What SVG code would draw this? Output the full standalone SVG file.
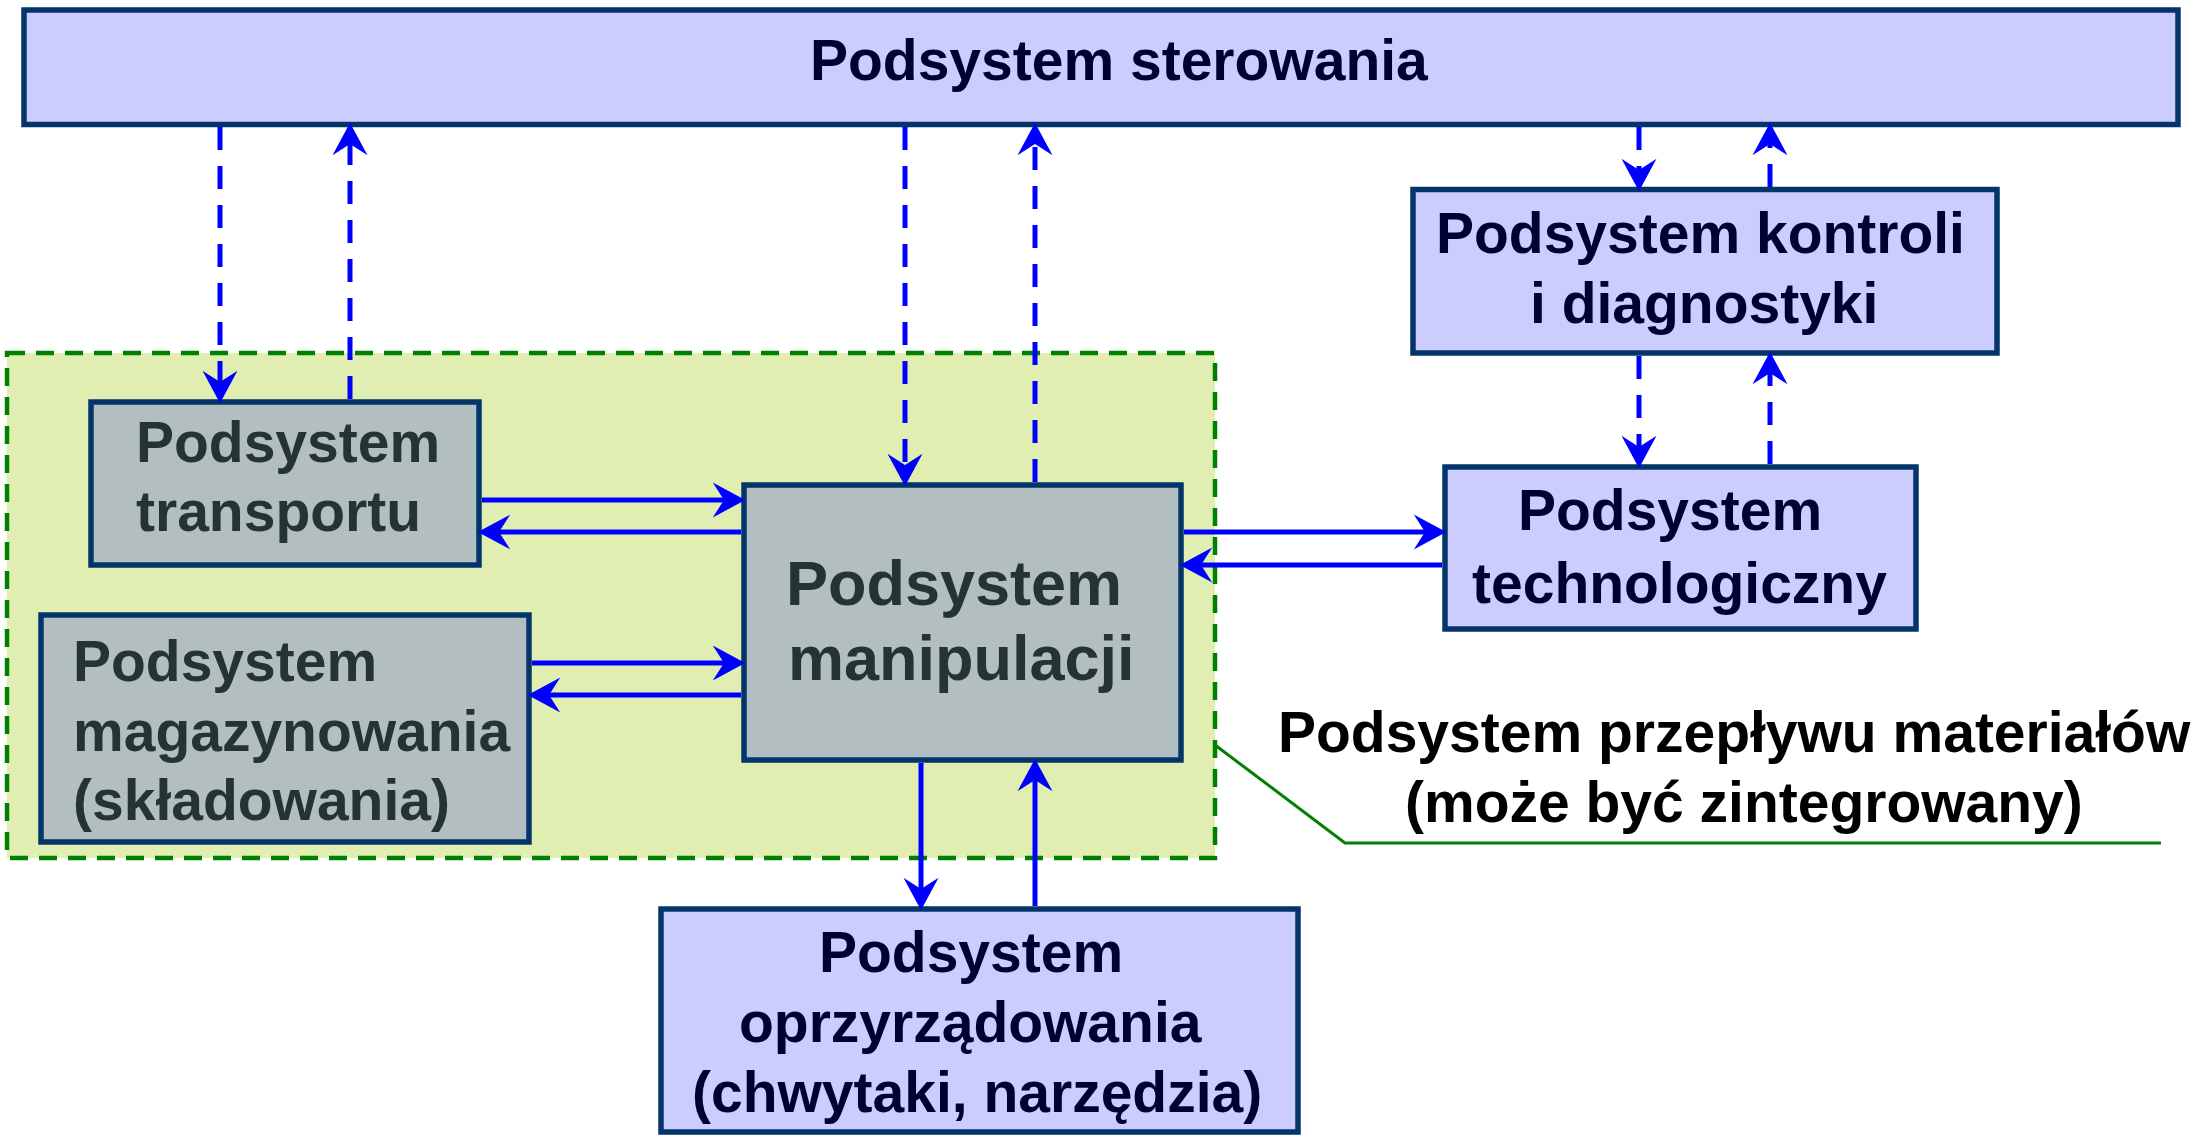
<svg xmlns="http://www.w3.org/2000/svg" width="2203" height="1135" viewBox="0 0 2203 1135">
  <defs>
    <marker id="ah" markerUnits="userSpaceOnUse" markerWidth="40" markerHeight="40" viewBox="-12 -16 32 32" refX="0" refY="0" orient="auto">
      <path d="M17,0 L-9,-14 L0,0 L-9,14 Z" fill="#0000FF"/>
    </marker>
  </defs>
  <style>
    .blue { fill: #CCCCFF; stroke: #03356A; stroke-width: 5.5; }
    .gray { fill: #B2BEC0; stroke: #03356A; stroke-width: 5.5; }
    .t { font-family: "Liberation Sans", Arial, sans-serif; font-weight: bold; font-size: 57px; }
    .big { font-size: 63px; }
    .tb { fill: #000033; }
    .tg { fill: #263333; }
    .solid { stroke: #0000FF; stroke-width: 5; fill: none; marker-end: url(#ah); }
    .dash { stroke: #0000FF; stroke-width: 5; fill: none; stroke-dasharray: 23 16; marker-end: url(#ah); }
  </style>
  <rect width="2203" height="1135" fill="#FFFFFF"/>

  <g id="material-flow-area">
    <rect x="7" y="353" width="1208" height="505" fill="#E0EEB2" stroke="#008000" stroke-width="4.5" stroke-dasharray="18 11"/>
  </g>

  <g id="sterowania">
    <rect class="blue" x="24" y="10" width="2154" height="114.5"/>
    <text class="t tb" x="810" y="80">Podsystem sterowania</text>
  </g>

  <g id="kontroli">
    <rect class="blue" x="1413" y="189.5" width="584" height="163.5"/>
    <text class="t tb" x="1436" y="253">Podsystem kontroli</text>
    <text class="t tb" x="1530" y="323">i diagnostyki</text>
  </g>

  <g id="technologiczny">
    <rect class="blue" x="1445" y="467" width="471" height="162"/>
    <text class="t tb" x="1518" y="530">Podsystem</text>
    <text class="t tb" x="1472" y="603">technologiczny</text>
  </g>

  <g id="transportu">
    <rect class="gray" x="91" y="402" width="388" height="163"/>
    <text class="t tg" x="136" y="462">Podsystem</text>
    <text class="t tg" x="136" y="531">transportu</text>
  </g>

  <g id="magazynowania">
    <rect class="gray" x="41" y="615" width="488" height="227"/>
    <text class="t tg" x="73" y="681">Podsystem</text>
    <text class="t tg" x="73" y="751">magazynowania</text>
    <text class="t tg" x="73" y="820">(składowania)</text>
  </g>

  <g id="manipulacji">
    <rect class="gray" x="744" y="485" width="437" height="275"/>
    <text class="t big tg" x="786" y="605">Podsystem</text>
    <text class="t big tg" x="788" y="680">manipulacji</text>
  </g>

  <g id="oprzyrzadowania">
    <rect class="blue" x="661" y="909" width="637" height="223"/>
    <text class="t tb" x="819" y="972">Podsystem</text>
    <text class="t tb" x="739" y="1042">oprzyrządowania</text>
    <text class="t tb" x="692" y="1112">(chwytaki, narzędzia)</text>
  </g>

  <g id="label-przeplywu">
    <polyline points="1215,745 1345,843 2161,843" fill="none" stroke="#008000" stroke-width="3"/>
    <text class="t" fill="#000000" x="1278" y="752">Podsystem przepływu materiałów</text>
    <text class="t" fill="#000000" x="1405" y="822">(może być zintegrowany)</text>
  </g>

  <g id="connectors">
    <line class="dash" x1="220" y1="127" x2="220" y2="382"/>
    <line class="dash" x1="350" y1="399" x2="350" y2="144"/>
    <line class="dash" x1="905" y1="127" x2="905" y2="465"/>
    <line class="dash" x1="1035" y1="482" x2="1035" y2="144"/>
    <line class="dash" x1="1639" y1="127" x2="1639" y2="170"/>
    <line class="dash" x1="1770" y1="187" x2="1770" y2="144"/>
    <line class="dash" x1="1639" y1="356" x2="1639" y2="447"/>
    <line class="dash" x1="1770" y1="464" x2="1770" y2="373"/>
    <line class="solid" x1="482" y1="500" x2="724" y2="500"/>
    <line class="solid" x1="741" y1="532" x2="499" y2="532"/>
    <line class="solid" x1="532" y1="663" x2="724" y2="663"/>
    <line class="solid" x1="741" y1="695" x2="549" y2="695"/>
    <line class="solid" x1="1184" y1="532" x2="1425" y2="532"/>
    <line class="solid" x1="1442" y1="565" x2="1201" y2="565"/>
    <line class="solid" x1="921" y1="763" x2="921" y2="889"/>
    <line class="solid" x1="1035" y1="906" x2="1035" y2="780"/>
  </g>
</svg>
